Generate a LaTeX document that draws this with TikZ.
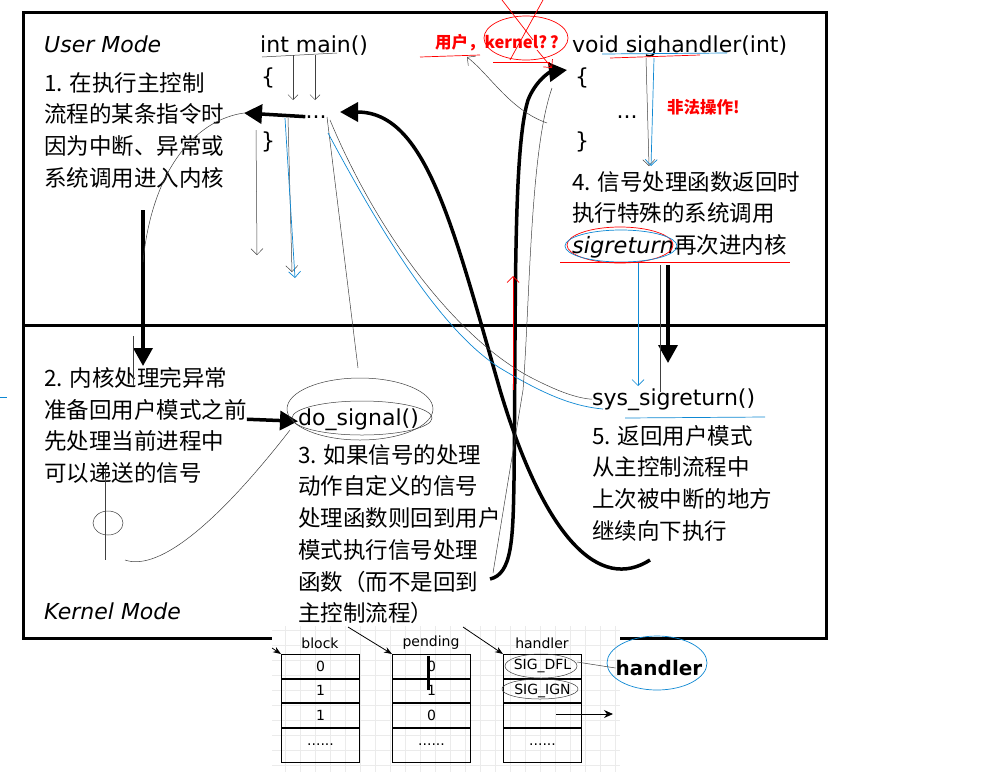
\documentclass[tikz,border=0pt]{standalone}
\usepackage{fontspec}
\setmainfont{DejaVu Sans}
\newfontfamily\cjk{Noto Sans CJK SC}
\usetikzlibrary{arrows.meta}

\begin{document}
\begin{tikzpicture}[x=1pt,y=-1pt]
   \useasboundingbox (0,0) rectangle (984,777);
   \tikzstyle{txt}=[font=\cjk\fontsize{22.5}{31.7}\selectfont, align=left, inner sep=0pt, anchor=north west]
   \tikzstyle{code}=[font=\fontsize{22}{26}\selectfont, inner sep=0pt, anchor=base west]
   \tikzstyle{flow}=[line width=3.5pt, -{Triangle[length=18pt,width=19pt]}]
   \tikzstyle{note}=[line width=0.5pt, black!75]
   \tikzstyle{rednote}=[line width=0.7pt, red]
   \tikzstyle{bluenote}=[line width=0.7pt, cyan!70!blue]
   \tikzstyle{cell}=[draw, line width=1pt, minimum width=78pt, minimum height=23.5pt, inner sep=0pt, font=\fontsize{14}{16}\selectfont]
   % frame
   \draw[line width=3pt] (23,12) rectangle (826,638);
   \draw[line width=3pt] (23,325) -- (826,325);
   % user mode
   \node[code] (user) at (44,52) {\itshape User Mode};
   \node[code] (main) at (260,52) {int main()};
   \node[code] (ob1) at (261,84) {\{};
   \node[code, anchor=base] (dots1) at (316,118) {...};
   \node[code] (cb1) at (261,148) {\}};
   \node[code] (sighandler) at (572,52) {void sighandler(int)};
   \node[code] (ob2) at (575,84) {\{};
   \node[code, anchor=base] (dots2) at (627,118) {...};
   \node[code] (cb2) at (575,148) {\}};
   \node[txt] (step1) at (44,72) {1. 在执行主控制\\流程的某条指令时\\因为中断、异常或\\系统调用进入内核};
   \node[txt] (step4) at (572,171) {4. 信号处理函数返回时\\执行特殊的系统调用\\{\rmfamily\itshape sigreturn}再次进内核};
   % kernel mode
   \node[txt] (step2) at (44,367) {2. 内核处理完异常\\准备回用户模式之前\\先处理当前进程中\\可以递送的信号};
   \node[code] (dosig) at (298,425) {do\_signal()};
   \node[txt] (step3) at (298,444) {3. 如果信号的处理\\动作自定义的信号\\处理函数则回到用户\\模式执行信号处理\\函数（而不是回到\\主控制流程）};
   \node[code] (sysret) at (592,405) {sys\_sigreturn()};
   \node[txt] (step5) at (592,425) {5. 返回用户模式\\从主控制流程中\\上次被中断的地方\\继续向下执行};
   \node[code] (kernel) at (44,619) {\itshape Kernel Mode};
   % red remarks
   \node[font=\cjk\bfseries\fontsize{16.5}{18}\selectfont, text=red, inner sep=0pt, anchor=west] (ask) at (435,43) {用户，kernel?\,?};
   \node[font=\cjk\bfseries\fontsize{16.5}{18}\selectfont, text=red, inner sep=0pt, anchor=west] (bad) at (667,107) {非法操作!};
   % main flow
   \coordinate (s1) at (143,210);
   \coordinate (s1end) at (143,366);
   \draw[flow] (s1) -- (s1end);
   \coordinate (back) at (244,113);
   \draw[flow] (dots1.west) -- (back);
   \draw[flow] (step2.east |- dosig.west) -- ([yshift=-2pt]dosig.west);
   \coordinate (c3) at (650,560);
   \coordinate (c3end) at (340,112);
   \draw[flow] (c3) .. controls (600,592) and (545,540) .. (500,390) .. controls (452,222) and (425,112) .. (c3end);
   \coordinate (c2) at (490,579);
   \coordinate (c2end) at (567,70);
   \draw[flow] (c2) .. controls (512,574) and (513,540) .. (514,480) .. controls (516,300) and (513,150) .. (528,100) .. controls (536,80) and (550,72) .. (c2end);
   \coordinate (s4) at (668,265);
   \coordinate (s4end) at (668,363);
   \draw[flow] (s4) -- (s4end);
   % hand notes, user side
   \draw[note] (262,57) -- (337,53);
   \draw[note, -{Straight Barb[length=5pt]}] (293,55) -- (293,100);
   \draw[note, -{Straight Barb[length=5pt]}] (315,55) -- (315,100);
   \draw[note, -{Straight Barb[length=6pt]}] (256,130) -- (257,255);
   \draw[note, -{Straight Barb[length=6pt]}] (288,118) -- (292,272);
   \draw[bluenote, -{Straight Barb[length=6pt]}] (285,118) -- (295,278);
   \draw[note] (327,117) -- (358,368);
   \draw[note] (back) .. controls (195,120) and (152,170) .. (143,262);
   \draw[note] (330,120) .. controls (380,240) and (460,340) .. (530,377) .. controls (555,390) and (575,398) .. (sysret.west);
   \draw[bluenote] (328,133) .. controls (380,230) and (440,330) .. (500,368) .. controls (540,392) and (570,406) .. (603,409);
   \draw[note, {Straight Barb[length=6pt]}-] (467,57) .. controls (490,75) and (510,110) .. (547,123);
   \draw[note] (552,88) .. controls (530,150) and (530,300) .. (523,390) -- (493,573);
   \draw[rednote, -{Straight Barb[length=6pt]}] (513,390) -- (513,276);
   % hand notes, sighandler side
   \draw[rednote] (420,57) -- (480,55);
   \draw[rednote] (493,62) -- (550,62);
   \draw[rednote] (526,38) ellipse [x radius=42, y radius=22];
   \draw[rednote] (502,0) -- (533,40);
   \draw[rednote] (543,0) -- (510,60);
   \draw[rednote, -{Straight Barb[length=6pt]}] (537,50) -- (552,68);
   \draw[bluenote] (602,54) -- (727,53);
   \draw[rednote] (610,58) -- (700,55);
   \draw[note, -{Straight Barb[length=6pt]}] (646,58) -- (649,166);
   \draw[bluenote, -{Straight Barb[length=6pt]}] (654,58) -- (651,166);
   \draw[rednote] (620,245) ellipse [x radius=53, y radius=18];
   \draw[bluenote] (621,246) ellipse [x radius=56, y radius=16];
   \draw[rednote] (560,262) -- (790,262);
   \draw[bluenote, -{Straight Barb[length=6pt]}] (638,263) -- (638,386);
   \draw[note] (660,265) -- (660,392);
   \draw[bluenote] (625,418) -- (765,417);
   % hand notes, kernel side
   \draw[note] (362,418) ellipse [x radius=70, y radius=17];
   \draw[note] (360,409) ellipse [x radius=73, y radius=31];
   \draw[note] (133,336) -- (133,386);
   \draw[note] (105,470) -- (105,560);
   \draw[note] (108,523) ellipse [x radius=15, y radius=12];
   \draw[note] (125,560) .. controls (160,572) and (220,520) .. (290,430);
   \draw[bluenote] (0,397) -- (7,397);
   % tables
   \fill[white] (272,626) rectangle (620,772);
   \draw[black!8, step=15pt] (272,626) grid (620,772);
   \foreach \name/\x/\ra/\rb/\rc in {block/281/0/1/1, pending/392/0/1/0, handler/503/SIG\_DFL/SIG\_IGN/{}} {
      \node[font=\fontsize{14}{16}\selectfont] (\name) at (\x+39,643) {\name};
      \node[cell, anchor=north west] (\name-1) at (\x,654) {\ra};
      \node[cell, anchor=north] (\name-2) at (\name-1.south) {\rb};
      \node[cell, anchor=north] (\name-3) at (\name-2.south) {\rc};
      \node[cell, anchor=north, minimum height=34pt] (\name-4) at (\name-3.south) {......};
   }
   \draw[-{Stealth[length=8pt]}, line width=0.8pt] (272,648) -- (block-1.north west);
   \draw[-{Stealth[length=8pt]}, line width=0.8pt] (348,627) -- (pending-1.north west);
   \draw[-{Stealth[length=8pt]}, line width=0.8pt] (463,627) -- (handler-1.north west);
   \coordinate (out) at (613,714);
   \draw[-{Stealth[length=9pt,width=8pt]}, line width=1pt] (556,714) -- (out);
   \draw[line width=3pt] (428,656) -- (428,690);
   \node[font=\bfseries\fontsize{20}{22}\selectfont, inner sep=0pt] (hfun) at (659,668) {handler};
   \draw[bluenote] (657,663) ellipse [x radius=50, y radius=27];
   \draw[note] (541,666) ellipse [x radius=36, y radius=12];
   \draw[note] (540,689) ellipse [x radius=38, y radius=10];
   \draw[note] (577,662) -- (hfun.west);
\end{tikzpicture}
\end{document}
